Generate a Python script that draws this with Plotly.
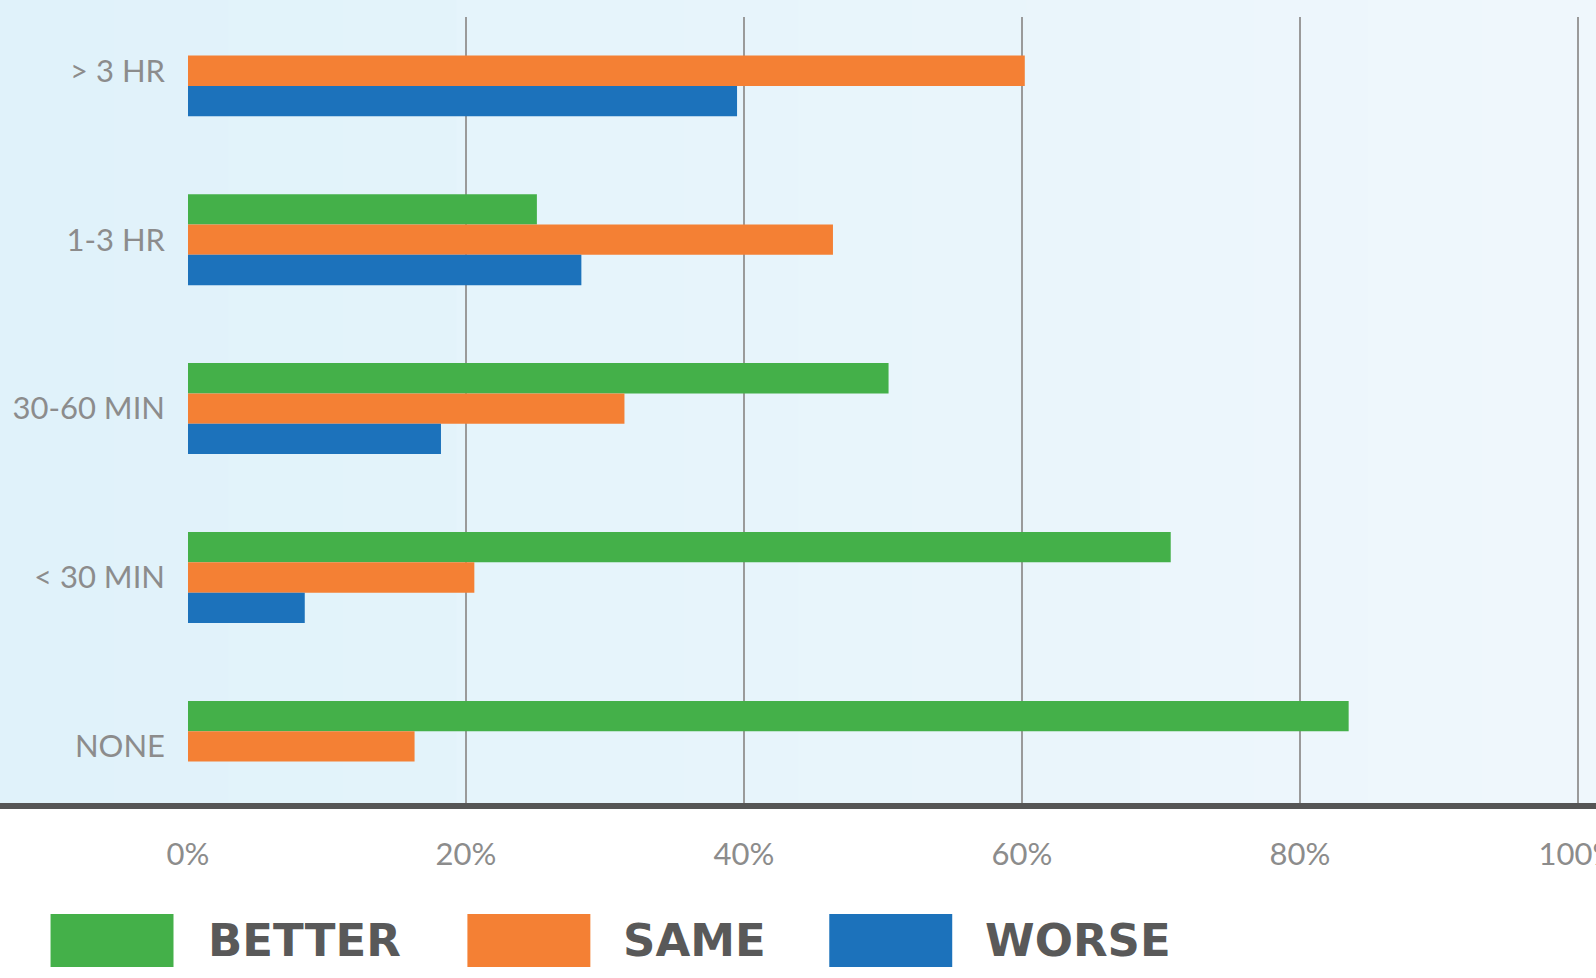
import plotly.graph_objects as go

# ---- data ----
categories = ["> 3 HR", "1-3 HR", "30-60 MIN", "< 30 MIN", "NONE"]
series_names = ["BETTER", "SAME", "WORSE"]
better = [0, 25.1, 50.4, 70.7, 83.5]
same = [60.2, 46.4, 31.4, 20.6, 16.3]
worse = [39.5, 28.3, 18.2, 8.4, 0]
series_values = [better, same, worse]
series_colors = ["#44b049", "#f48034", "#1c72bb"]
x_tick_vals = [0, 20, 40, 60, 80, 100]
x_tick_text = ["0%", "20%", "40%", "60%", "80%", "100%"]

# ---- layout geometry (pixels) ----
W, H = 1596, 978
L, R, T, B = 187.5, 0, 16.7, 175
PW = W - L - R
PH = H - T - B
PX_PER_UNIT = (1578 - 187.5) / 100.0
X_MAX = PW / PX_PER_UNIT


def px_x(px):
    return (px - L) / PW


def px_y(py):
    return (H - B - py) / PH


fig = go.Figure()
for name, vals, col in zip(series_names, series_values, series_colors):
    fig.add_trace(go.Bar(
        y=categories, x=vals, name=name, orientation="h",
        marker=dict(color=col, line=dict(width=0)),
        hoverinfo="x+y+name",
    ))

shapes = []
# gradient background (bands)
n_bands = 14
c0 = (224, 242, 250)
c1 = (239, 247, 252)
for i in range(n_bands):
    f = i / (n_bands - 1)
    col = "rgb(%d,%d,%d)" % tuple(round(a + (b - a) * f) for a, b in zip(c0, c1))
    x0 = W * i / n_bands - (5 if i == 0 else 0)
    x1 = W * (i + 1) / n_bands + (5 if i == n_bands - 1 else 1)
    shapes.append(dict(type="rect", xref="paper", yref="paper",
                       x0=px_x(x0), x1=px_x(x1), y0=px_y(803), y1=px_y(-5),
                       fillcolor=col, line=dict(width=0), layer="below"))
# thick bottom axis line
shapes.append(dict(type="line", xref="paper", yref="paper",
                   x0=px_x(-5), x1=px_x(W + 5), y0=px_y(806), y1=px_y(806),
                   line=dict(color="#555555", width=6), layer="above"))

# legend
legend_box_x = [50, 467, 829]
legend_text_x = [208, 623, 985]
annotations = []
for name, col, bx, tx in zip(series_names, series_colors, legend_box_x, legend_text_x):
    shapes.append(dict(type="rect", xref="paper", yref="paper",
                       x0=px_x(bx), x1=px_x(bx + 123), y0=px_y(967), y1=px_y(914),
                       fillcolor=col, line=dict(width=0)))
    annotations.append(dict(xref="paper", yref="paper", x=px_x(tx - 2), y=px_y(941),
                            xanchor="left", yanchor="middle", showarrow=False,
                            text="<b>%s</b>" % name,
                            font=dict(family="DejaVu Sans", size=45, color="#595959")))

# y range so that group centres sit at measured pixel positions
c_first, step = 70.5, 168.96
y_top = (T - c_first) / step
y_bot = (H - B - c_first) / step

label_font = dict(family="Lato", size=31, color="#8c8c8c")

fig.update_layout(
    width=W, height=H,
    margin=dict(l=L, r=R, t=T, b=B, autoexpand=False),
    paper_bgcolor="white", plot_bgcolor="rgba(0,0,0,0)",
    barmode="group", bargap=0.4614, bargroupgap=0,
    showlegend=False,
    shapes=shapes, annotations=annotations,
    font=dict(family="Lato", color="#8c8c8c"),
    xaxis=dict(range=[0, X_MAX], tickvals=x_tick_vals, ticktext=x_tick_text,
               showgrid=True, gridcolor="#9a9a9a", gridwidth=1.5,
               zeroline=False, showline=False, ticks="",
               ticklabelstandoff=30, ticklabeloverflow="allow", automargin=False,
               tickfont=label_font),
    yaxis=dict(type="category", categoryorder="array", categoryarray=categories,
               range=[y_bot, y_top], showgrid=False, zeroline=False,
               showline=False, ticks="", ticklabelstandoff=22,
               ticklabeloverflow="allow", automargin=False,
               tickfont=label_font),
)

fig.write_html(
    "out.html",
    config={"displayModeBar": False},
    post_script="document.body.style.margin='0';document.body.style.overflow='hidden';",
)
